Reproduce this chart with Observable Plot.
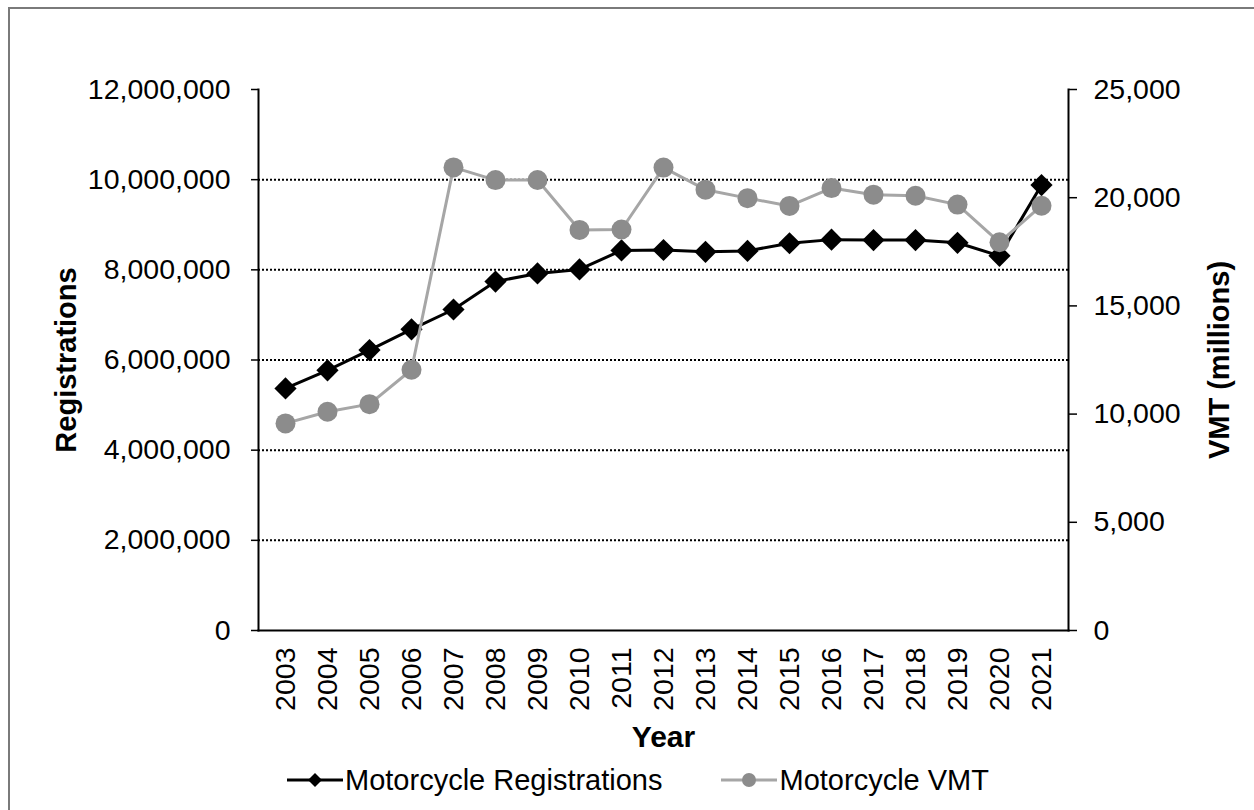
<!DOCTYPE html>
<html>
<head>
<meta charset="utf-8">
<script src="https://cdn.jsdelivr.net/npm/d3@7"></script>
<script src="https://cdn.jsdelivr.net/npm/@observablehq/plot@0.6"></script>
<style>
  body { margin: 0; background: #fff; }
  #wrap { position: relative; width: 1254px; height: 810px; overflow: hidden; font-family: "Liberation Sans", Arial, sans-serif; background: #fff; }
  #border { position: absolute; left: 8px; top: 7px; width: 1400px; height: 1000px; border: 2px solid #7a7a7a; box-sizing: border-box; }
  #chart { position: absolute; left: 0; top: 0; }
  #chart g[aria-label="y-axis label"] text { font-weight: bold; font-size: 29px; }
  #chart g[aria-label="x-axis label"] text { font-weight: bold; font-size: 30px; }
  #legend { position: absolute; left: 287px; top: 762px; height: 36px; display: flex; align-items: center; font-size: 29px; color: #000; }
  .item { display: flex; align-items: center; }
  .item svg { display: block; }
</style>
</head>
<body>
<div id="wrap">
  <div id="border"></div>
  <div id="chart"></div>
  <div id="legend">
    <div class="item"><svg width="56" height="20"><line x1="0" y1="10" x2="56" y2="10" stroke="#000" stroke-width="3"/><path d="M28,3 L35,10 L28,17 L21,10 Z" fill="#000"/></svg><span style="margin-left:2px">Motorcycle Registrations</span></div>
    <div class="item" style="margin-left:58px"><svg width="56" height="20"><line x1="0" y1="10" x2="56" y2="10" stroke="#a6a6a6" stroke-width="3"/><circle cx="28" cy="10" r="7" fill="#8c8c8c"/></svg><span style="margin-left:3px">Motorcycle VMT</span></div>
  </div>
</div>
<script>
const years = [2003, 2004, 2005, 2006, 2007, 2008, 2009, 2010, 2011, 2012, 2013, 2014, 2015, 2016, 2017, 2018, 2019, 2020, 2021];
const registrations = [5370000, 5770000, 6220000, 6680000, 7120000, 7740000, 7920000, 8010000, 8430000, 8440000, 8400000, 8420000, 8590000, 8670000, 8660000, 8660000, 8600000, 8310000, 9880000];
const vmtMillions = [9570, 10110, 10460, 12050, 21400, 20815, 20820, 18510, 18530, 21390, 20370, 19980, 19620, 20445, 20140, 20090, 19680, 17940, 19630];
const registrationTicks = [0, 2000000, 4000000, 6000000, 8000000, 10000000, 12000000];
const vmtTicks = [0, 5000, 10000, 15000, 20000, 25000];
const gridTicks = [2000000, 4000000, 6000000, 8000000, 10000000];

const regMax = 12000000, vmtMax = 25000;
const k = regMax / vmtMax;
const data = years.map((year, i) => ({year, reg: registrations[i], vmt: vmtMillions[i]}));
const fmt = d3.format(",");

const chart = Plot.plot({
  width: 1254,
  height: 810,
  marginLeft: 258,
  marginRight: 186,
  marginTop: 89,
  marginBottom: 180,
  style: {fontFamily: '"Liberation Sans", Arial, sans-serif', fontSize: "28.5px", color: "#000", background: "transparent", overflow: "visible"},
  x: {type: "point", domain: years, padding: 0.5},
  y: {domain: [0, regMax]},
  marks: [
    Plot.gridY(gridTicks, {stroke: "#000", strokeOpacity: 1, strokeWidth: 2, strokeDasharray: "2,2"}),
    Plot.axisY(registrationTicks, {anchor: "left", tickSize: 7, tickPadding: 21, strokeWidth: 1.5, tickFormat: fmt, label: "Registrations", labelAnchor: "center", labelOffset: 203, labelArrow: "none"}),
    Plot.axisY(vmtTicks.map(v => v * k), {anchor: "right", tickSize: 8, tickPadding: 17, strokeWidth: 1.5, tickFormat: d => fmt(Math.round(d / k)), label: "VMT (millions)", labelAnchor: "center", labelOffset: 160, labelArrow: "none"}),
    Plot.axisX(years, {anchor: "bottom", tickSize: 0, tickRotate: -90, tickPadding: 17, tickFormat: d => String(d), label: "Year", labelAnchor: "center", labelOffset: 116, labelArrow: "none"}),
    Plot.frame({anchor: "left", stroke: "#000", strokeWidth: 2}),
    Plot.frame({anchor: "right", stroke: "#000", strokeWidth: 2}),
    Plot.frame({anchor: "bottom", stroke: "#000", strokeWidth: 2}),
    Plot.line(data, {x: "year", y: "reg", stroke: "#000", strokeWidth: 3}),
    Plot.dot(data, {x: "year", y: "reg", symbol: "diamond2", r: 10, fill: "#000", stroke: "none"}),
    Plot.line(data, {x: "year", y: d => d.vmt * k, stroke: "#a6a6a6", strokeWidth: 3}),
    Plot.dot(data, {x: "year", y: d => d.vmt * k, r: 10, fill: "#8c8c8c", stroke: "none"})
  ]
});
document.getElementById("chart").appendChild(chart);
</script>
</body>
</html>
